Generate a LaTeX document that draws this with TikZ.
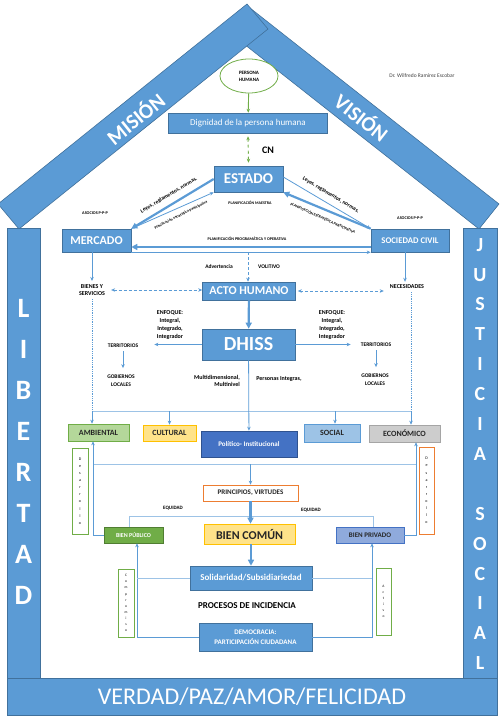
\documentclass[tikz,border=0pt]{standalone}
\usepackage{fontspec}
\setmainfont{Carlito}
\usetikzlibrary{arrows.meta,positioning,shapes.geometric}
\definecolor{officeblue}{HTML}{5B9BD5}
\definecolor{darkblue}{HTML}{41719C}
\definecolor{paleblue}{HTML}{9DC3E6}
\definecolor{officegreen}{HTML}{70AD47}
\definecolor{darkgreen}{HTML}{507E32}
\definecolor{palegreen}{HTML}{B4D79A}
\definecolor{officeorange}{HTML}{ED7D31}
\definecolor{gold}{HTML}{FFC000}
\definecolor{paleyellow}{HTML}{FFE38A}
\definecolor{royal}{HTML}{4472C4}
\definecolor{darkroyal}{HTML}{2F528F}
\definecolor{lavender}{HTML}{8FAADC}
\definecolor{midgray}{HTML}{A5A5A5}
\definecolor{lightgray}{HTML}{CDCDCD}

\tikzset{
  bluebox/.style={draw=darkblue, fill=officeblue, text=white, inner sep=0pt, line width=0.6pt},
  catbox/.style={inner sep=0pt, line width=0.6pt, text=black!85, font=\bfseries\fontsize{8}{9}\selectfont},
  tinytext/.style={font=\bfseries\fontsize{4}{5}\selectfont, inner sep=0pt},
  smalltext/.style={font=\bfseries\fontsize{6}{7.7}\selectfont, inner sep=0pt, align=center},
  letterbox/.style={fill=white, inner sep=0pt, line width=0.8pt, font=\fontsize{4}{7.1}\selectfont, align=center},
  roofpart/.style={fill=officeblue, draw=darkblue, line width=0.6pt},
  link/.style={draw=officeblue, line width=0.8pt},
  pale/.style={draw=paleblue, line width=0.8pt},
  heavy/.style={draw=officeblue, line width=2.2pt, -{Triangle[length=6pt,width=6pt]}},
}

\begin{document}
\begin{tikzpicture}[x=1pt, y=-1pt, >={Stealth[length=4pt,width=3.5pt]}]
\path[use as bounding box] (0,0) rectangle (500,719);
\clip (0,0) rectangle (500,719);

% techo, columnas y base
\filldraw[roofpart] (230,33) -- (250,8) -- (499,204) -- (479,229) -- cycle;
\filldraw[roofpart] (247,4) -- (268,29) -- (19,229) -- (-2,204) -- cycle;
\filldraw[roofpart] (7,228) rectangle (40,678);
\filldraw[roofpart] (463,228) rectangle (497,678);
\filldraw[roofpart] (7,678) rectangle (497,715);

\node[text=white, font=\bfseries\fontsize{21}{21}\selectfont, rotate=39] (mision) at (135,118) {MISIÓN};
\node[text=white, font=\bfseries\fontsize{21}{21}\selectfont, rotate=-38] (vision) at (362,117) {VISIÓN};
\node[text=white, font=\bfseries\fontsize{28}{41}\selectfont, align=center] (libertad) at (23.5,452) {L\\I\\B\\E\\R\\T\\A\\D};
\node[text=white, font=\bfseries\fontsize{20}{29.9}\selectfont, align=center] (justicia) at (480,454) {J\\U\\S\\T\\I\\C\\I\\A\\[29.9pt]S\\O\\C\\I\\A\\L};
\node[text=white, font=\fontsize{24}{24}\selectfont] (valores) at (252,697) {VERDAD/PAZ/AMOR/FELICIDAD};

% parte superior
\node[font=\fontsize{5.5}{6}\selectfont, text=black!75] (autor) at (422,76) {Dr. Wilfredo Ramírez Escobar};
\node[ellipse, draw=officegreen, line width=0.8pt, fill=white, minimum width=58pt, minimum height=34pt, inner sep=0pt, align=center, font=\bfseries\fontsize{5}{7}\selectfont] (persona) at (249,76) {PERSONA\\HUMANA};
\node[bluebox, minimum width=159pt, minimum height=20pt, font=\fontsize{9}{10}\selectfont] (dignidad) at (248,123) {Dignidad de la persona humana};
\node[font=\bfseries\fontsize{10}{12}\selectfont] (cn) at (268,150) {CN};
\node[bluebox, minimum width=69pt, minimum height=26pt, font=\bfseries\fontsize{15}{18}\selectfont] (estado) at (248.5,179) {ESTADO};
\node[bluebox, minimum width=69pt, minimum height=23pt, font=\bfseries\fontsize{12}{14}\selectfont] (mercado) at (96.5,240.5) {MERCADO};
\node[bluebox, minimum width=78pt, minimum height=23pt, font=\bfseries\fontsize{8.7}{10}\selectfont] (sociedad) at (410,240.5) {SOCIEDAD CIVIL};

\draw[->, officegreen, line width=0.9pt] (persona) -- (dignidad);
\draw[<->, officegreen, dashed, line width=0.9pt] ([yshift=-3pt]dignidad.south) -- ([yshift=3pt]estado.north);

\draw[heavy] (estado.west) -- (mercado.north east);
\draw[link, ->] (mercado.north east) -- (estado.south west);
\draw[link, ->] ([yshift=2pt]estado.east) -- (sociedad.north west);
\draw[heavy] (sociedad.north west) -- (estado.south east);
\draw[heavy, line width=1.6pt] ([yshift=-6.5pt]sociedad.west) -- ([yshift=-6.5pt]mercado.east);
\draw[link, ->] (mercado.south east) -- (sociedad.south west);

\node[tinytext, font=\bfseries\fontsize{5.5}{6}\selectfont, rotate=31] (leyesm) at (169,195) {Leyes, reglamentos, normas.};
\node[tinytext, font=\bfseries\fontsize{5.5}{6}\selectfont, rotate=-31] (leyess) at (331,195) {Leyes, reglamentos, normas.};
\node[tinytext, font=\bfseries\fontsize{3.8}{4}\selectfont, rotate=27] (planm) at (181,215) {Planificación estratégica participativa};
\node[tinytext, font=\bfseries\fontsize{3.8}{4}\selectfont, rotate=-24] (plans) at (323,218) {PLANIFICACIÓN ESTRATÉGICA PARTICIPATIVA};
\node[tinytext] (maestra) at (250,203) {PLANIFICACIÓN MAESTRA};
\node[tinytext, font=\bfseries\fontsize{4.2}{5}\selectfont] (asociosm) at (95,213) {ASOCIOS P-P-P};
\node[tinytext, font=\bfseries\fontsize{4.2}{5}\selectfont] (asocioss) at (410,218) {ASOCIOS P-P-P};
\node[tinytext, font=\bfseries\fontsize{4.1}{5}\selectfont] (programatica) at (247,239) {PLANIFICACIÓN PROGRAMÁTICA Y OPERATIVA};

% acto humano
\coordinate (plan) at (248,252);
\node[bluebox, minimum width=93pt, minimum height=18pt, font=\bfseries\fontsize{12}{14}\selectfont] (acto) at (249,291) {ACTO HUMANO};
\draw[link, densely dashed, ->] (plan) -- (plan |- acto.north);
\node[smalltext, font=\bfseries\fontsize{5.5}{6}\selectfont] (advertencia) at (219,267) {Advertencia};
\node[smalltext, font=\bfseries\fontsize{5.5}{6}\selectfont] (volitivo) at (269,267) {VOLITIVO};

\node[smalltext] (bienes) at (92,290) {BIENES Y\\SERVICIOS};
\node[smalltext] (necesidades) at (407,287) {NECESIDADES};
\draw[link, ->] (mercado.south -| bienes) -- ([yshift=3pt]bienes.north);
\draw[link, ->] ([xshift=-2pt]sociedad.south -| necesidades) -- ([xshift=-2pt,yshift=3pt]necesidades.north);
\draw[link, densely dashed, <->] ([xshift=6pt]bienes.east) -- (bienes.east -| acto.west);
\draw[link, densely dashed, <->] ([xshift=2pt]acto.east) -- ([xshift=-6pt]acto.east -| necesidades.west);

% DHISS
\node[bluebox, minimum width=93pt, minimum height=31pt, font=\bfseries\fontsize{20}{22}\selectfont] (dhiss) at (248.5,344.5) {DHISS};
\draw[heavy] (acto) -- (dhiss);

\node[smalltext] (enfoquem) at (170,325) {ENFOQUE:\\Integral,\\Integrado,\\Integrador};
\node[smalltext] (enfoques) at (332,325) {ENFOQUE:\\Integral,\\Integrado,\\Integrador};
\node[smalltext, font=\bfseries\fontsize{5.5}{7.7}\selectfont] (territoriosm) at (123,346) {TERRITORIOS};
\node[smalltext, font=\bfseries\fontsize{5.5}{7.7}\selectfont] (territorioss) at (376,345) {TERRITORIOS};
\node[smalltext, font=\bfseries\fontsize{5.5}{7.7}\selectfont] (gobiernosm) at (121,381) {GOBIERNOS\\LOCALES};
\node[smalltext, font=\bfseries\fontsize{5.5}{7.7}\selectfont] (gobiernoss) at (375,380) {GOBIERNOS\\LOCALES};
\node[smalltext, align=right, anchor=east] (multi) at (240,381) {Multidimensional,\\Multinivel};
\node[smalltext] (personas) at (279,379) {Personas Integras,};

\draw[link, ->] (dhiss.west) -- ([xshift=16pt]dhiss.west -| territoriosm.east);
\draw[link, ->] (dhiss.east) -- ([xshift=-10pt]dhiss.east -| territorioss.west);
\draw[link, ->] ([yshift=-3pt]territoriosm.south) -- ([yshift=7pt]territoriosm.south |- gobiernosm.north);
\draw[link, ->] ([yshift=-3pt]territorioss.south) -- ([yshift=7pt]territorioss.south |- gobiernoss.north);

% dimensiones
\node[catbox, draw=officegreen, fill=palegreen, minimum width=61pt, minimum height=17pt] (ambiental) at (98.5,432.5) {AMBIENTAL};
\node[catbox, draw=gold, fill=paleyellow, minimum width=53pt, minimum height=16pt] (cultural) at (169.5,433) {CULTURAL};
\node[catbox, draw=darkroyal, fill=royal, text=white, minimum width=96pt, minimum height=26pt, font=\bfseries\fontsize{7}{8}\selectfont] (politico) at (249,444) {Político- Institucional};
\node[catbox, draw=officeblue, fill=paleblue, minimum width=56pt, minimum height=18pt] (social) at (332,433) {SOCIAL};
\node[catbox, draw=midgray, fill=lightgray, minimum width=71pt, minimum height=17pt] (economico) at (404.5,433.5) {ECONÓMICO};

\coordinate (rowm) at (92,411);
\coordinate (rows) at (411,411);
\draw[link, densely dotted] ([yshift=-3pt]bienes.south) -- (rowm);
\draw[link, densely dotted] ([yshift=-3pt]rows |- necesidades.south) -- (rows);
\draw[pale] (rowm) -- (rows);
\draw[link, ->] (rowm) -- (rowm |- ambiental.north);
\draw[link, ->] (rowm -| cultural) -- (cultural.north);
\draw[link, ->] ([xshift=3pt]rowm -| social) -- ([xshift=3pt]social.north);
\draw[link, ->] (rows) -- (rows |- economico.north);
\draw[link, ->] (dhiss) -- (politico);

\node[letterbox, draw=officegreen, minimum width=16pt, minimum height=86pt] (desarrollom) at (80,491) {D\\e\\s\\a\\r\\r\\o\\l\\l\\o};
\node[letterbox, draw=officeorange, minimum width=15pt, minimum height=87pt] (desarrollos) at (426.5,490.5) {D\\e\\s\\a\\r\\r\\o\\l\\l\\o};

% bien comun
\node[catbox, draw=officeorange, fill=white, minimum width=95pt, minimum height=16pt, font=\bfseries\fontsize{7}{8}\selectfont] (principios) at (250.5,493) {PRINCIPIOS, VIRTUDES};
\node[catbox, draw=darkgreen, fill=officegreen, text=white, minimum width=59pt, minimum height=16pt, font=\bfseries\fontsize{6}{7}\selectfont] (publico) at (133.5,535) {BIEN PÚBLICO};
\node[catbox, draw=gold, fill=paleyellow, minimum width=91pt, minimum height=20pt, font=\bfseries\fontsize{12}{14}\selectfont] (comun) at (249.5,534) {BIEN COMÚN};
\node[catbox, draw=royal, fill=lavender, minimum width=68pt, minimum height=16pt, font=\bfseries\fontsize{7}{8}\selectfont] (privado) at (370,535) {BIEN PRIVADO};

\coordinate (mixm) at (93,464);
\coordinate (mixs) at (416,464);
\draw[pale] (mixm) -- (mixs);
\draw[link, ->] (mixm -| principios) -- (principios.north);
\draw[link, ->] (publico.west) -| (mixm |- ambiental.south);
\draw[link, ->] (privado.east) -| (mixs |- economico.south);

\draw[pale] ([xshift=-4.5pt]publico.north) -- ++(0,-10) -| ([xshift=3pt]privado.north);
\node[tinytext, font=\bfseries\fontsize{5}{6}\selectfont] (equidadm) at (173,508) {EQUIDAD};
\node[tinytext, font=\bfseries\fontsize{5}{6}\selectfont] (equidads) at (311,510) {EQUIDAD};
\draw[heavy] (principios.south) -- (principios.south |- comun.north);

% procesos
\node[bluebox, minimum width=122pt, minimum height=24pt, font=\bfseries\fontsize{9}{10}\selectfont] (solidaridad) at (251,578) {Solidaridad/Subsidiariedad};
\node[font=\bfseries\fontsize{9}{10}\selectfont] (procesos) at (247,606) {PROCESOS DE INCIDENCIA};
\node[bluebox, minimum width=113pt, minimum height=28pt, align=center, font=\bfseries\fontsize{7}{10}\selectfont] (democracia) at (255.5,637) {DEMOCRACIA:\\PARTICIPACIÓN CIUDADANA};
\draw[heavy] (comun.south -| solidaridad) -- (solidaridad.north);

\node[letterbox, draw=officegreen, minimum width=16pt, minimum height=68pt, font=\fontsize{3.6}{6.1}\selectfont] (compromiso) at (126,603) {C\\o\\m\\p\\r\\o\\m\\i\\s\\o};
\node[letterbox, draw=officegreen, minimum width=15pt, minimum height=67pt, font=\fontsize{3.6}{6.1}\selectfont] (activo) at (383.5,601.5) {A\\c\\t\\i\\v\\o};

\coordinate (pubfoot) at ([xshift=3.5pt]publico.south);
\coordinate (privfoot) at ([xshift=2pt]privado.south);
\draw[link, ->] (democracia.west) -| (pubfoot);
\draw[pale] (solidaridad.west) -- (solidaridad.west -| pubfoot);
\draw[link, ->] (democracia.east) -| (privfoot);
\draw[pale] (solidaridad.east) -- (solidaridad.east -| privfoot);
\end{tikzpicture}
\end{document}
